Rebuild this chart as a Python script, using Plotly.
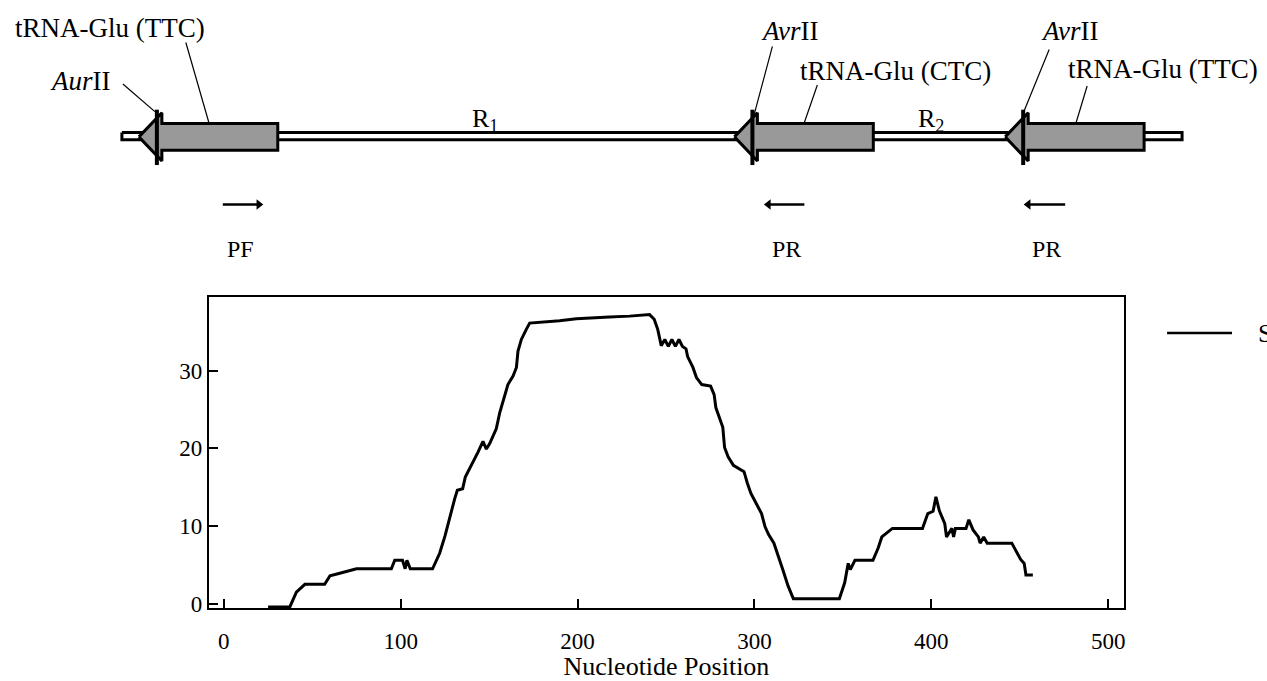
import plotly.graph_objects as go

W, H = 1267, 681
FONT = "Liberation Serif, Times New Roman, serif"

# ---- similarity profile ----
pos = [25, 37.3, 41, 45.8, 57, 60, 65, 75, 94.7, 96.6, 101, 102.5, 103.5, 105.4, 118,
       122, 125, 127.7, 130.5, 132, 135, 136.5, 140, 143.7, 146.5, 148.4, 150.3, 154,
       156, 157.8, 160.6, 163.5, 165.4, 166.3, 168.2, 171, 172.9, 189.8, 199.3, 218,
       229.4, 240.7, 243.3, 245.3, 247.3, 249.3, 251.3, 253.3, 255.3, 257.3, 259.3,
       261.3, 262.2, 265.2, 267.2, 270.2, 275.2, 277.2, 278.2, 280.1, 282.1, 283.1,
       285.1, 288.1, 294.1, 296, 298, 301, 304, 306, 308, 311, 313, 316, 319, 322,
       348, 351, 353, 354.2, 356.8, 367, 370, 372, 378, 395, 398, 401, 402.6, 404.5,
       407.6, 408.6, 411.6, 412.6, 413.6, 419.6, 421.2, 423.6, 426.6, 427.6, 429.6,
       431.6, 445.5, 448.5, 450.5, 452.5, 453.5, 457.4]
sim = [-0.4, -0.4, 1.5, 2.5, 2.5, 3.6, 3.9, 4.5, 4.5, 5.6, 5.6, 4.5, 5.6, 4.5, 4.5,
       6.5, 8.7, 11.2, 13.5, 14.6, 14.8, 16.3, 17.8, 19.5, 20.9, 19.9, 20.6, 22.5,
       24.6, 25.9, 28.2, 29.3, 30.4, 32.5, 34.0, 35.3, 36.1, 36.4, 36.65, 36.9,
       37.0, 37.2, 36.6, 35.3, 33.2, 34.0, 33.1, 34.0, 33.1, 34.0, 33.1,
       32.8, 31.8, 30.4, 29.1, 28.2, 28.0, 26.9, 25.2, 24.0, 22.7, 20.1,
       18.9, 17.8, 17.0, 15.5, 14.2, 12.9, 11.6, 9.9, 8.9, 7.8, 6.5, 4.4, 2.3, 0.64,
       0.64, 2.7, 5.2, 4.4, 5.6, 5.6, 7.2, 8.6, 9.7, 9.7, 11.6, 11.9, 13.75, 12.0,
       10.3, 8.6, 9.7, 8.6, 9.7, 9.7, 10.8, 9.5, 8.6, 7.8, 8.6,
       7.8, 7.8, 6.5, 5.7, 5.2, 3.7, 3.7]
series_name = "Similarity"
x_ticks = [0, 100, 200, 300, 400, 500]
y_ticks = [0, 10, 20, 30]

# ---- gene map (schematic units) ----
backbone = [122, 1183]
gene_tip = [139, 735, 1006]
gene_end = [278, 874, 1145]
gene_names = ["tRNA-Glu (TTC)", "tRNA-Glu (CTC)", "tRNA-Glu (TTC)"]
site_names = ["<i>Aur</i>II", "<i>Avr</i>II", "<i>Avr</i>II"]
region_names = ["R<sub>1</sub>", "R<sub>2</sub>"]
region_pos = [485, 932]
primer_names = ["PF", "PR", "PR"]
primer_tail = [223, 805, 1066]
primer_head = [259, 769, 1029]
gene_label_xy = [(110, 28), (896, 72), (1164, 70)]
gene_leader = [((186, 43), (209, 124)), ((818, 86), (805, 124)), ((1088, 87), (1077, 124))]
site_label_xy = [(80, 82), (790, 31), (1070, 31)]
site_leader = [((123, 85), (155, 113)), ((773, 47), (755, 115)), ((1050, 50), (1025, 112))]

fig = go.Figure()

# backbone (double line)
fig.add_trace(go.Scatter(
    x=[backbone[0], backbone[1], backbone[1], backbone[0], backbone[0]],
    y=[134, 134, 141.5, 141.5, 134], mode="lines", fill="toself",
    fillcolor="white", line=dict(color="black", width=3),
    xaxis="x2", yaxis="y2", showlegend=False, hoverinfo="skip"))

# gene arrows
HEAD = 23
for t, e in zip(gene_tip, gene_end):
    b = t + HEAD
    fig.add_trace(go.Scatter(
        x=[t, b, b, e, e, b, b, t],
        y=[138.5, 114, 125, 125, 152, 152, 163, 138.5],
        mode="lines", fill="toself", fillcolor="#999999",
        line=dict(color="black", width=3), xaxis="x2", yaxis="y2",
        showlegend=False, hoverinfo="skip"))
    # restriction site bar
    fig.add_trace(go.Scatter(
        x=[t + 18, t + 18], y=[111, 167], mode="lines",
        line=dict(color="black", width=4), xaxis="x2", yaxis="y2",
        showlegend=False, hoverinfo="skip"))

# leader lines
lx, ly = [], []
for (p, q) in gene_leader + site_leader:
    lx += [p[0], q[0], None]
    ly += [p[1], q[1], None]
fig.add_trace(go.Scatter(x=lx, y=ly, mode="lines", line=dict(color="black", width=1.2),
                         xaxis="x2", yaxis="y2", showlegend=False, hoverinfo="skip"))

# primer arrows
for t, h in zip(primer_tail, primer_head):
    fig.add_trace(go.Scatter(
        x=[t, h], y=[207, 207], mode="lines", line=dict(color="black", width=2.5),
        xaxis="x2", yaxis="y2", showlegend=False, hoverinfo="skip"))
    fig.add_trace(go.Scatter(
        x=[h], y=[207], mode="markers",
        marker=dict(symbol="triangle-right" if h > t else "triangle-left",
                    size=9, color="black"),
        xaxis="x2", yaxis="y2", showlegend=False, hoverinfo="skip"))

# profile
fig.add_trace(go.Scatter(x=pos, y=sim, mode="lines", name=series_name,
                         line=dict(color="black", width=3), showlegend=False))

ann = []
for name, (x, y) in zip(gene_names, gene_label_xy):
    ann.append(dict(x=x, y=y, xref="x2", yref="y2", text=name, showarrow=False,
                    font=dict(size=27)))
for name, (x, y) in zip(site_names, site_label_xy):
    ann.append(dict(x=x, y=y, xref="x2", yref="y2", text=name, showarrow=False,
                    font=dict(size=27)))
for name, x in zip(region_names, region_pos):
    ann.append(dict(x=x, y=121, xref="x2", yref="y2", text=name, showarrow=False,
                    font=dict(size=26)))
for name, t, h in zip(primer_names, primer_tail, primer_head):
    ann.append(dict(x=(t + h) / 2, y=252, xref="x2", yref="y2", text=name, showarrow=False,
                    font=dict(size=24)))

# legend (manual, clipped by page edge like the original)
ann.append(dict(x=1257 / W, y=(H - 337) / H, xref="paper", yref="paper", text=series_name,
                showarrow=False, xanchor="left", yanchor="middle", font=dict(size=26)))
shapes = [dict(type="line", xref="paper", yref="paper", x0=1168 / W, x1=1233 / W,
               y0=(H - 337) / H, y1=(H - 337) / H, line=dict(color="black", width=2.5))]

axis_common = dict(showgrid=False, zeroline=False, showline=True, linecolor="black",
                   linewidth=2, mirror=True, ticks="inside", ticklen=9, tickwidth=2,
                   tickcolor="black", tickfont=dict(size=23, color="black"))

fig.update_layout(
    width=W, height=H, margin=dict(l=0, r=0, t=0, b=0),
    paper_bgcolor="white", plot_bgcolor="white",
    font=dict(family=FONT, color="black"),
    showlegend=False,
    xaxis=dict(domain=[209 / W, 1125 / W], range=[-8.5, 509], tickvals=x_ticks,
               ticklabelstandoff=11,
               title=dict(text="Nucleotide Position", font=dict(size=26), standoff=5),
               **axis_common),
    yaxis=dict(domain=[(H - 615.7) / H, (H - 301) / H], range=[-0.6, 39.4],
               tickvals=y_ticks, ticklabelstandoff=0, **axis_common),
    xaxis2=dict(domain=[0, 1], range=[0, W], visible=False, anchor="y2"),
    yaxis2=dict(domain=[(H - 275) / H, 1], range=[275, 0], visible=False, anchor="x2"),
    annotations=ann, shapes=shapes,
)

fig.write_html("out.html", config={"displayModeBar": False},
               post_script="document.body.style.margin='0px';")
